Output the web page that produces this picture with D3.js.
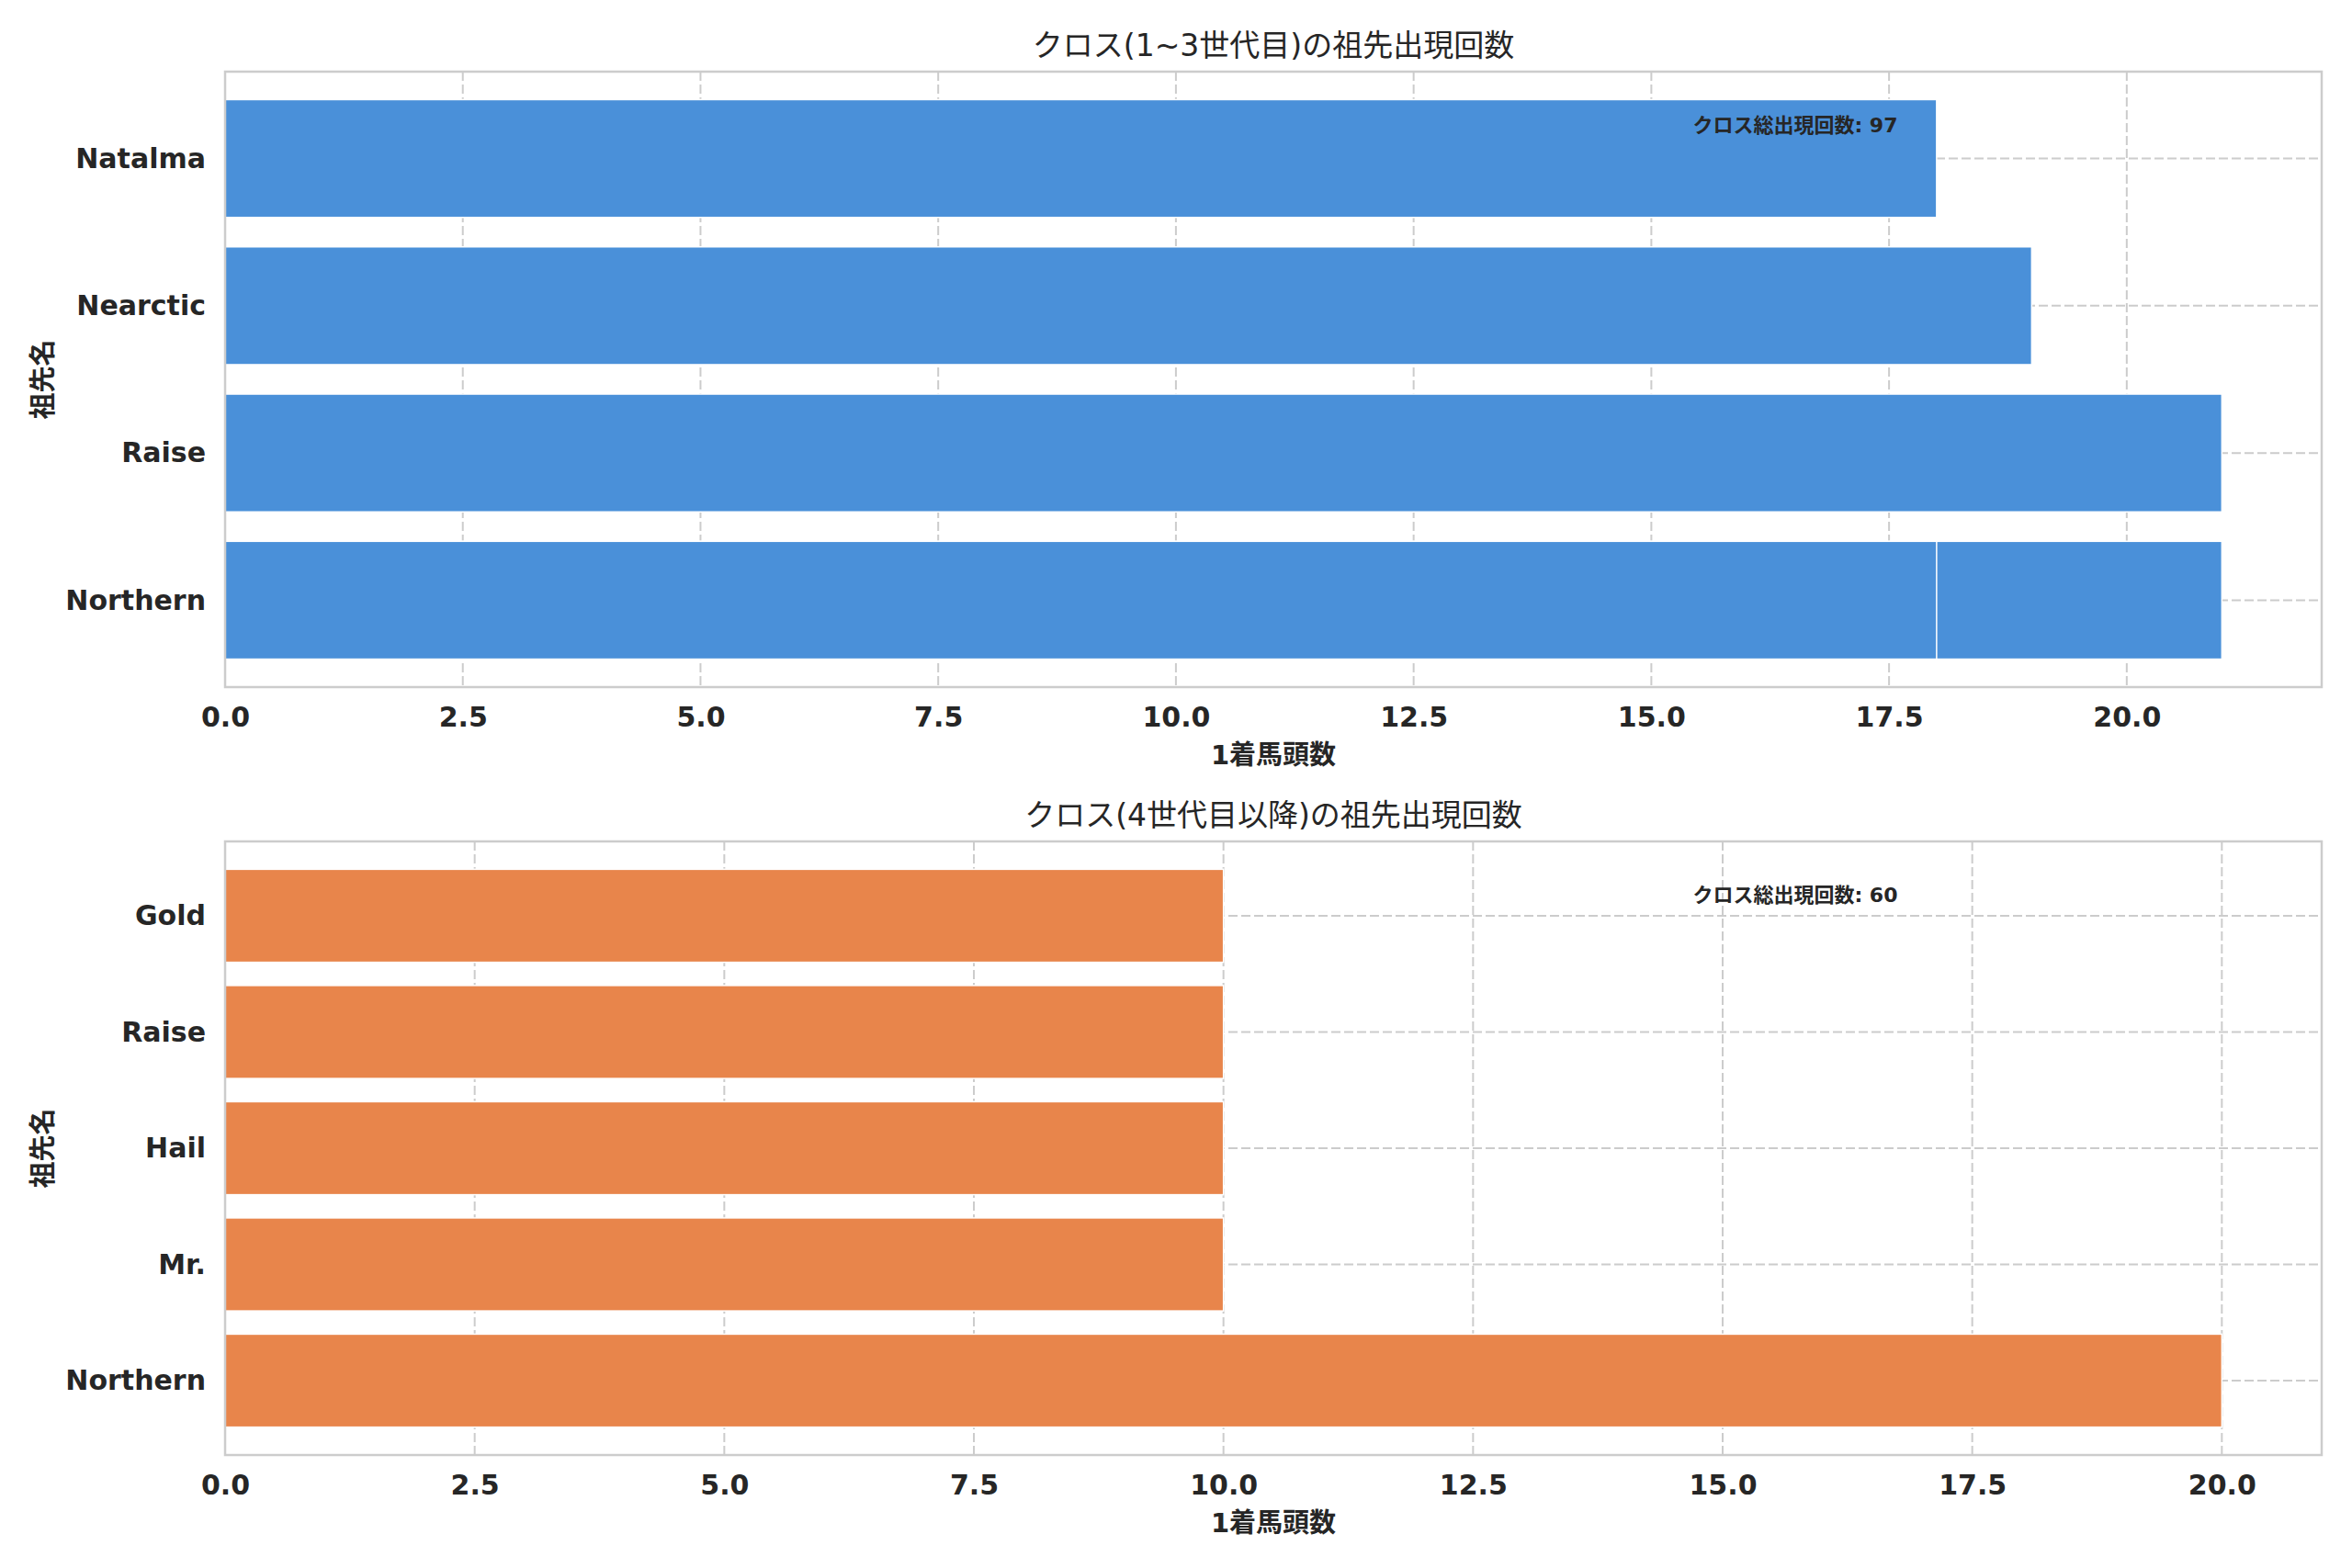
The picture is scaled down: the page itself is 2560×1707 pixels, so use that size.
<!DOCTYPE html>
<html>
<head>
<meta charset="utf-8">
<script src="https://cdn.jsdelivr.net/npm/d3@7"></script>
<style>
  body { margin: 0; background: #fff; }
  svg text { font-family: "DejaVu Sans", "Noto Sans CJK JP", sans-serif; fill: #262626; }
</style>
</head>
<body>
<script>
"use strict";

// 上段: 1~3世代目
const upperNames  = ["Northern", "Raise", "Nearctic", "Natalma", "Northern"];
const upperCounts = [21, 21, 19, 18, 18];
const upperTicks  = [0, 2.5, 5, 7.5, 10, 12.5, 15, 17.5, 20];
const upperTitle  = "クロス(1~3世代目)の祖先出現回数";
const upperNote   = "クロス総出現回数: 97";

// 下段: 4世代目以降
const lowerNames  = ["Northern", "Mr.", "Hail", "Raise", "Gold"];
const lowerCounts = [20, 10, 10, 10, 10];
const lowerTicks  = [0, 2.5, 5, 7.5, 10, 12.5, 15, 17.5, 20];
const lowerTitle  = "クロス(4世代目以降)の祖先出現回数";
const lowerNote   = "クロス総出現回数: 60";

const xLabel = "1着馬頭数";
const yLabel = "祖先名";

const W = 2560, H = 1707;
const svg = d3.select("body").append("svg").attr("width", W).attr("height", H);

function panel(opt)
{
  let left = 245, right = 2527;
  let top = opt.top, bottom = opt.bottom;
  let data = opt.names.map((n, i) => ({name: n, value: opt.counts[i]}));
  let cats = Array.from(new Set(opt.names));

  // matplotlib風の余白 (5%)
  let xMax = d3.max(opt.counts) * 1.05;
  let lo = -0.4, hi = cats.length - 1 + 0.4, pad = (hi - lo) * 0.05;
  let x = d3.scaleLinear().domain([0, xMax]).range([left, right]);
  let y = d3.scaleLinear().domain([lo - pad, hi + pad]).range([bottom, top]);
  let bh = y(0) - y(0.8);

  let g = svg.append("g");

  // グリッド
  g.append("g").selectAll("line").data(opt.ticks).enter().append("line")
    .attr("x1", d => x(d)).attr("x2", d => x(d))
    .attr("y1", top).attr("y2", bottom)
    .attr("stroke", "#cccccc").attr("stroke-width", 2).attr("stroke-dasharray", "10,4");
  g.append("g").selectAll("line").data(cats).enter().append("line")
    .attr("x1", left).attr("x2", right)
    .attr("y1", (d, i) => y(i)).attr("y2", (d, i) => y(i))
    .attr("stroke", "#cccccc").attr("stroke-width", 2).attr("stroke-dasharray", "10,4");

  // バー
  g.append("g").selectAll("rect").data(data).enter().append("rect")
    .attr("x", x(0))
    .attr("y", d => y(cats.indexOf(d.name)) - bh / 2)
    .attr("width", d => x(d.value) - x(0))
    .attr("height", bh)
    .attr("fill", opt.color)
    .attr("stroke", "#ffffff").attr("stroke-width", 1.5);

  // 枠
  g.append("rect")
    .attr("x", left).attr("y", top).attr("width", right - left).attr("height", bottom - top)
    .attr("fill", "none").attr("stroke", "#cccccc").attr("stroke-width", 2.5);

  // 軸
  let xAxis = d3.axisBottom(x).tickValues(opt.ticks).tickFormat(d3.format(".1f")).tickSize(0).tickPadding(22);
  let ax = g.append("g").attr("transform", `translate(0,${bottom})`).call(xAxis);
  ax.select(".domain").remove();
  ax.selectAll("text").attr("font-size", 30).attr("font-weight", "bold").attr("fill", "#262626")
    .style("font-family", "'DejaVu Sans'");

  let yAxis = d3.axisLeft(y).tickValues(d3.range(cats.length)).tickFormat(i => cats[i]).tickSize(0).tickPadding(21);
  let ay = g.append("g").attr("transform", `translate(${left},0)`).call(yAxis);
  ay.select(".domain").remove();
  ay.selectAll("text").attr("font-size", 30).attr("font-weight", "bold").attr("fill", "#262626")
    .style("font-family", "'DejaVu Sans'");

  // ラベル・タイトル
  g.append("text").attr("x", (left + right) / 2).attr("y", opt.titleY)
    .attr("text-anchor", "middle").attr("dominant-baseline", "central")
    .attr("font-size", 33).text(opt.title);
  g.append("text").attr("x", (left + right) / 2).attr("y", bottom + 74)
    .attr("text-anchor", "middle").attr("dominant-baseline", "central")
    .attr("font-size", 29).attr("font-weight", "bold").text(xLabel);
  g.append("text")
    .attr("transform", `translate(47,${(top + bottom) / 2}) rotate(-90)`)
    .attr("text-anchor", "middle").attr("dominant-baseline", "central")
    .attr("font-size", 29).attr("font-weight", "bold").text(yLabel);

  // 合計注記
  g.append("text").attr("x", left + (right - left) * 0.7).attr("y", top + (bottom - top) * 0.088)
    .attr("dominant-baseline", "central")
    .attr("font-size", 22).attr("font-weight", "bold").text(opt.note);
}

panel({names: upperNames, counts: upperCounts, ticks: upperTicks, title: upperTitle, note: upperNote,
  color: "#4a90d9", top: 78, bottom: 748, titleY: 49});
panel({names: lowerNames, counts: lowerCounts, ticks: lowerTicks, title: lowerTitle, note: lowerNote,
  color: "#e8854b", top: 916, bottom: 1584, titleY: 887});
</script>
</body>
</html>
